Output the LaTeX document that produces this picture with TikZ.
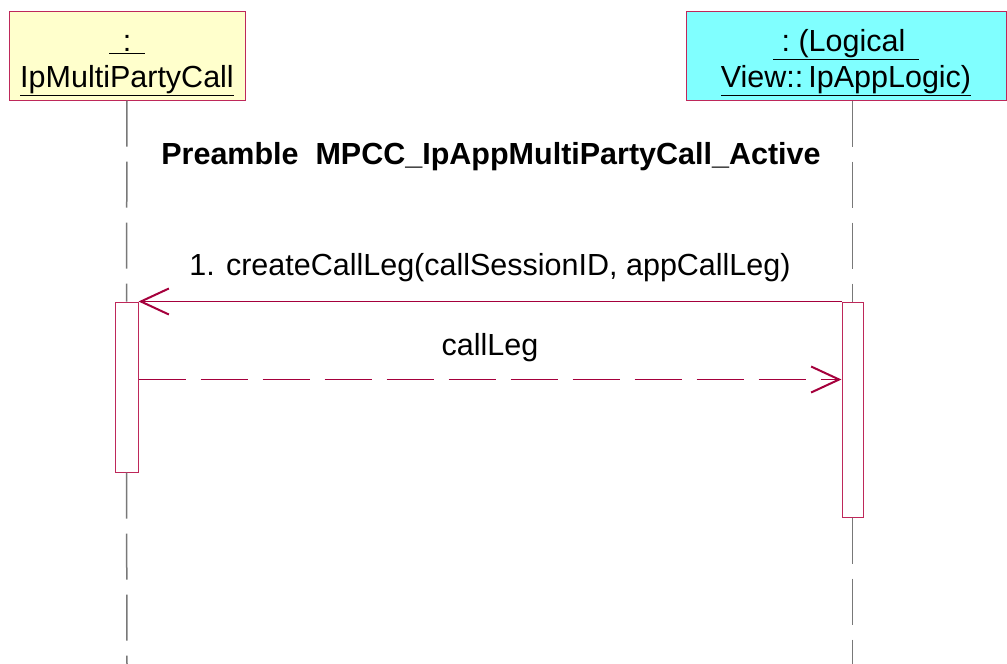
\documentclass[tikz,border=0pt]{standalone}
\usepackage{fontspec}
\setmainfont{Liberation Sans}
\usetikzlibrary{arrows.meta}
\definecolor{objline}{RGB}{190,40,90}
\definecolor{msgline}{RGB}{165,0,60}
\definecolor{lifegray}{RGB}{120,120,120}
\definecolor{objyellow}{RGB}{255,255,204}
\definecolor{objcyan}{RGB}{128,255,255}
\begin{document}
\begin{tikzpicture}[x=1pt,y=-1pt]
		\tikzstyle{every node}=[font=\fontsize{30.5pt}{36pt}\selectfont]
		\tikzstyle{objbox}=[draw=objline, line width=1pt, inner sep=0pt, align=center, minimum height=89pt]
		\tikzstyle{actbox}=[draw=objline, fill=white, line width=1pt, inner sep=0pt]
		\tikzstyle{lifedash}=[draw=lifegray, line width=1.5pt, dash pattern=on 46pt off 15pt]
		\tikzstyle{msg}=[draw=msgline, line width=1pt, -{Straight Barb[length=28pt,width=26pt,line width=2pt]}]
		\useasboundingbox (0,0) rectangle (1007,664);
		
		\node [objbox, fill=objyellow, minimum width=236pt] (mpc) at (127,55.5) {\rule{0pt}{36pt}\underline{\ \,:\,\ }\\\underline{IpMultiPartyCall}};
		\node [objbox, fill=objcyan, minimum width=320pt] (app) at (846,55.5) {\rule{0pt}{36pt}\underline{\ :\ (Logical\ \,}\\\underline{View::\,IpAppLogic)}};
		
		\node [actbox, minimum width=23pt, minimum height=170pt] (mpcact) at (126.5,387) {};
		\node [actbox, minimum width=21pt, minimum height=215pt] (appact) at (852.5,409.5) {};
		
		\draw [lifedash] (mpc.south) -- (mpcact.north);
		\draw [lifedash] (mpcact.south) -- (mpc.south |- 0,664);
		\draw [lifedash] (app.south -| appact.north) -- (appact.north);
		\draw [lifedash] (appact.south) -- (appact.south |- 0,664);
		
		\node (title) at (491,157) {\bfseries Preamble\ \ MPCC\_IpAppMultiPartyCall\_Active};
		\node (call) at (490,268) {1. createCallLeg(callSessionID, appCallLeg)};
		\node (ret) at (490,348) {callLeg};
		
		\draw [msg] (appact.north west) -- (mpcact.north east);
		\draw [msg, dash pattern=on 47pt off 15pt] ([yshift=-78pt]mpcact.north east) -- ([yshift=-78pt]appact.north west);
	\end{tikzpicture}
\end{document}
